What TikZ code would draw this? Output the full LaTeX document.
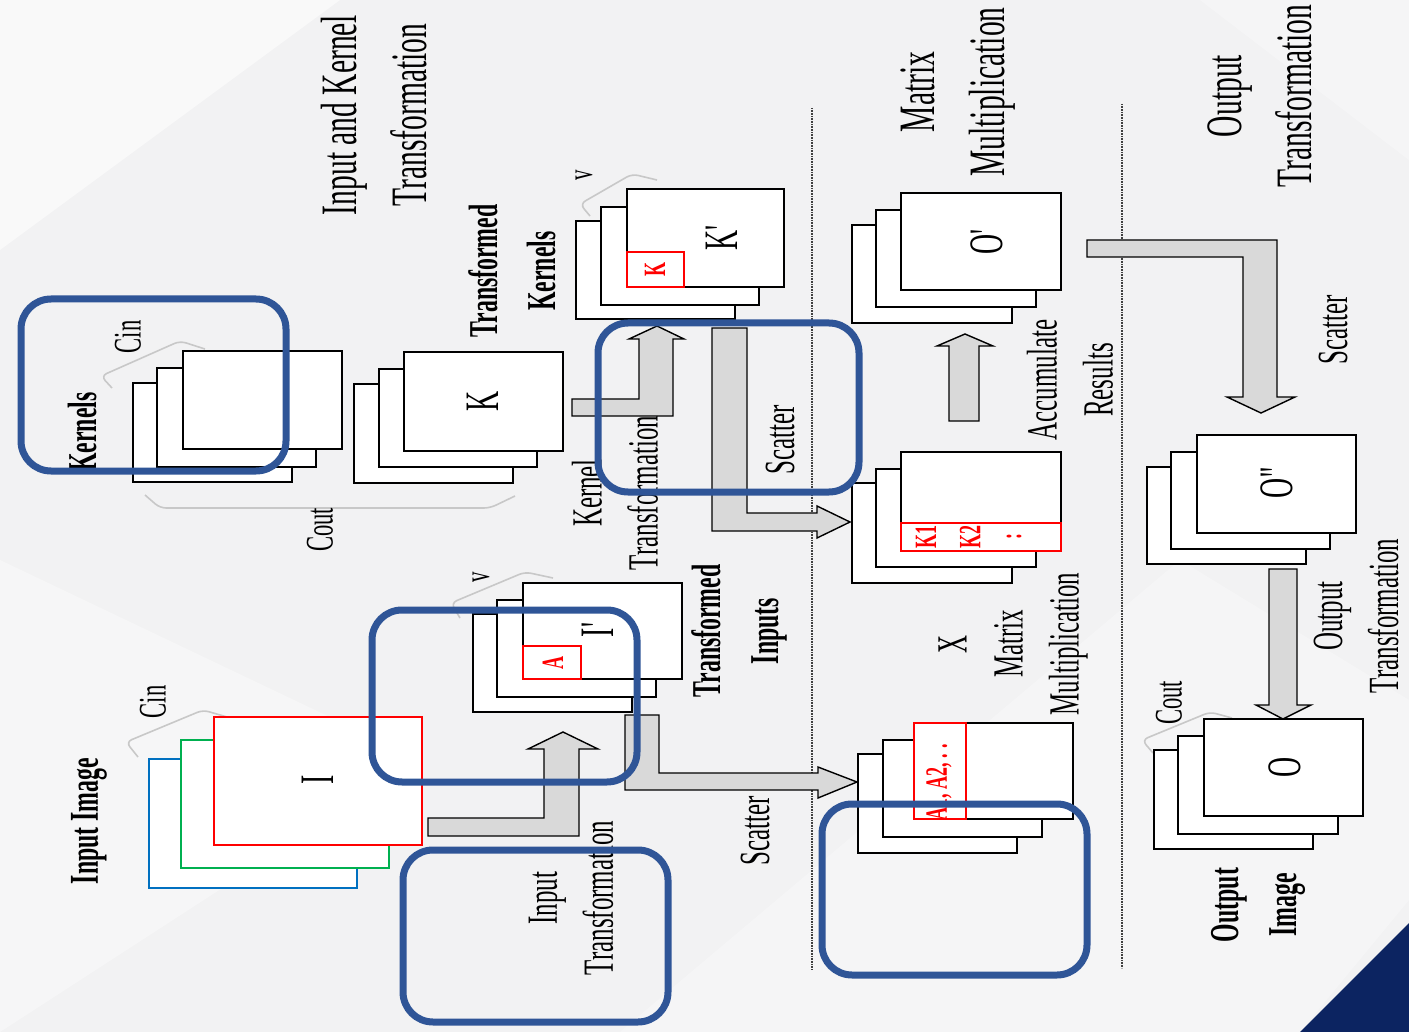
\documentclass[tikz,border=0pt]{standalone}
\usepackage{fontspec}
\setmainfont{Liberation Serif}
\newfontfamily\cf[FakeStretch=0.58]{Liberation Serif}
\definecolor{bg}{RGB}{242,242,243}
\definecolor{hl}{RGB}{47,85,151}
\definecolor{navy}{RGB}{12,36,97}
\definecolor{agray}{RGB}{217,217,217}
\definecolor{brk}{RGB}{200,200,200}
\definecolor{ired}{RGB}{255,0,0}
\definecolor{igreen}{RGB}{0,176,80}
\definecolor{iblue}{RGB}{0,112,192}
\newcommand\lay[5]{\draw[layer,draw=#5] (#1,#2) rectangle (#3,#4);}
\begin{document}
\begin{tikzpicture}[x=1pt,y=-1pt,
  layer/.style={fill=white,line width=1.7pt},
  hlbox/.style={draw=hl,line width=7pt,rounded corners=30pt},
  dotline/.style={draw=black!75,line width=2.2pt,dash pattern=on 0.8pt off 0.8pt},
  bracket/.style={draw=brk,line width=1.6pt,rounded corners=6pt},
  blockarrow/.style={draw=black,fill=agray,line width=1.4pt,line join=miter},
  lblL/.style={rotate=90,inner sep=0pt,align=center,font=\cf\fontsize{51}{70}\selectfont},
  lblM/.style={rotate=90,inner sep=0pt,align=center,font=\cf\fontsize{43}{56}\selectfont},
  lblS/.style={rotate=90,inner sep=0pt,align=center,font=\cf\fontsize{39}{44}\selectfont},
  lblv/.style={rotate=90,inner sep=0pt,font=\cf\fontsize{36}{40}\selectfont},
  blbl/.style={rotate=90,inner sep=0pt,align=center,font=\cf\bfseries\fontsize{41}{58}\selectfont},
  boxlbl/.style={rotate=90,inner sep=0pt,font=\cf\fontsize{48}{50}\selectfont},
  redlbl/.style={rotate=90,inner sep=0pt,text=ired,font=\cf\bfseries\fontsize{31}{32}\selectfont},
  redsm/.style={rotate=90,inner sep=0pt,text=ired,font=\cf\bfseries\fontsize{31}{32}\selectfont}
]
% background
\fill[bg] (0,0) rectangle (1409,1032);
\useasboundingbox (0,0) rectangle (1409,1032);
\fill[white,opacity=0.55] (0,0) -- (340,0) -- (0,250) -- cycle;
\fill[white,opacity=0.35] (0,560) -- (420,760) -- (0,1032) -- cycle;
\fill[white,opacity=0.3] (620,1032) -- (1180,560) -- (1409,700) -- (1409,900) -- (1300,1032) -- cycle;
\fill[white,opacity=0.3] (1200,0) -- (1409,0) -- (1409,160) -- cycle;
\fill[navy] (1300,1032) -- (1409,923) -- (1409,1032) -- cycle;

% dotted separators
\draw[dotline] (812,108) -- (812,970);
\draw[dotline] (1122,104) -- (1122,968);

% brackets
\draw[bracket] (112,388) -- (101,376) -- (180,341) -- (205,349);
\draw[bracket] (145,495) -- (160,508) -- (490,508) -- (515,496);
\draw[bracket] (138,757) -- (126,742) -- (203,710) -- (227,717);
\draw[bracket] (460,618) -- (451,603) -- (525,572) -- (553,578);
\draw[bracket] (590,216) -- (580,204) -- (632,174) -- (657,180);
\draw[bracket] (1153,753) -- (1142,740) -- (1210,712) -- (1232,718);

% stacks
\lay{133}{383}{292}{482}{black}\lay{157}{368}{316}{467}{black}\lay{183}{351}{342}{449}{black}
\lay{354}{384}{513}{483}{black}\lay{379}{369}{537}{467}{black}\lay{404}{352}{563}{451}{black}
\lay{576}{221}{735}{319}{black}\lay{601}{207}{759}{305}{black}\lay{627}{189}{784}{287}{black}
\draw[ired,line width=1.4pt] (627,252) rectangle (684,287);
\lay{852}{225}{1012}{323}{black}\lay{876}{210}{1036}{307}{black}\lay{901}{193}{1061}{290}{black}
\lay{852}{483}{1012}{583}{black}\lay{876}{469}{1036}{567}{black}\lay{901}{452}{1061}{551}{black}
\draw[ired,line width=1.8pt] (901,523) rectangle (1061,551);
\lay{1147}{467}{1306}{564}{black}\lay{1171}{452}{1330}{549}{black}\lay{1197}{435}{1356}{533}{black}
\lay{1154}{750}{1313}{849}{black}\lay{1178}{736}{1338}{834}{black}\lay{1204}{719}{1363}{816}{black}
\lay{149}{759}{357}{888}{iblue}\lay{181}{740}{389}{868}{igreen}\lay{214}{717}{422}{845}{ired}
\lay{473}{614}{632}{712}{black}\lay{497}{600}{656}{697}{black}\lay{523}{583}{682}{679}{black}
\draw[ired,line width=1.4pt] (523,646) rectangle (581,679);
\lay{858}{754}{1017}{853}{black}\lay{883}{740}{1042}{837}{black}\lay{914}{723}{1073}{819}{black}
\draw[ired,line width=1.6pt] (914,723) rectangle (966,819);

% block arrows
\draw[blockarrow] (428,818) -- (544,818) -- (544,749) -- (528,749) -- (563,732) -- (598,749) -- (579,749) -- (579,836) -- (428,836) -- cycle;
\draw[blockarrow] (625,715) -- (659,715) -- (659,773) -- (818,773) -- (818,767) -- (857,782) -- (818,798) -- (818,790) -- (625,790) -- cycle;
\draw[blockarrow] (572,399) -- (639,399) -- (639,339) -- (629,339) -- (657,326) -- (684,339) -- (673,339) -- (673,416) -- (572,416) -- cycle;
\draw[blockarrow] (712,328) -- (747,328) -- (747,513) -- (817,513) -- (817,506) -- (850,522) -- (817,538) -- (817,531) -- (712,531) -- cycle;
\draw[blockarrow] (949,421) -- (949,346) -- (937,346) -- (965,334) -- (993,346) -- (979,346) -- (979,421) -- cycle;
\draw[blockarrow] (1087,240) -- (1277,240) -- (1277,397) -- (1295,397) -- (1261,413) -- (1227,397) -- (1243,397) -- (1243,257) -- (1087,257) -- cycle;
\draw[blockarrow] (1269,569) -- (1297,569) -- (1297,705) -- (1311,705) -- (1283,719) -- (1256,705) -- (1269,705) -- cycle;

% letters in boxes
\node[boxlbl] (lI) at (318,780) {I};
\node[boxlbl] (lIp) at (598,630) {I'};
\node[boxlbl] (lK) at (483,401) {K};
\node[boxlbl] (lKp) at (722,238) {K'};
\node[boxlbl] (lOp) at (987,242) {O'};
\node[boxlbl] (lOpp) at (1277,483) {O''};
\node[boxlbl] (lO) at (1285,767) {O};
\node[redlbl] (rK) at (655,270) {K};
\node[redlbl] (rA) at (553,663) {A};
\node[redsm] (rK1) at (926,537) {K1};
\node[redsm] (rK2) at (970,537) {K2};
\node[redsm] (rdots) at (1014,537) {:};
\node[redlbl] (rAs) at (939,782) {A1, A2, . .};

% labels
\node[lblL] (t1) at (374,115) {Input and Kernel\\Transformation};
\node[lblL] (t2) at (958,92) {Matrix\\Multiplication};
\node[lblL] (t3) at (1260,96) {Output\\Transformation};
\node[blbl] (t4) at (512,271) {Transformed\\Kernels};
\node[blbl] (t5) at (82,432) {Kernels};
\node[lblS] (t6) at (128,337) {Cin};
\node[lblS] (t7) at (320,530) {Cout};
\node[lblv] (t8) at (584,175) {v};
\node[lblM] (t9) at (615,493) {Kernel\\Transformation};
\node[lblM] (t10) at (780,440) {Scatter};
\node[lblM] (t11) at (1070,380) {Accumulate\\Results};
\node[lblM] (t12) at (1333,330) {Scatter};
\node[lblM] (t13) at (1356,616) {Output\\Transformation};
\node[lblS] (t14) at (1169,703) {Cout};
\node[blbl] (t15) at (1258,905) {Output\\Image};
\node[lblM] (t16) at (1013,644) {X\\Matrix\\Multiplication};
\node[blbl] (t17) at (89,821) {Input Image};
\node[lblS] (t18) at (153,702) {Cin};
\node[lblv] (t19) at (481,577) {v};
\node[blbl] (t20) at (739,631) {Transformed\\Inputs};
\node[lblM] (t21) at (571,898) {Input\\Transformation};
\node[lblM] (t22) at (755,831) {Scatter};

% highlight boxes
\draw[hlbox] (21,299) rectangle (286,471);
\draw[hlbox] (598,323) rectangle (859,492);
\draw[hlbox] (372,610) rectangle (637,782);
\draw[hlbox] (403,850) rectangle (668,1022);
\draw[hlbox] (822,804) rectangle (1087,975);
\end{tikzpicture}
\end{document}
